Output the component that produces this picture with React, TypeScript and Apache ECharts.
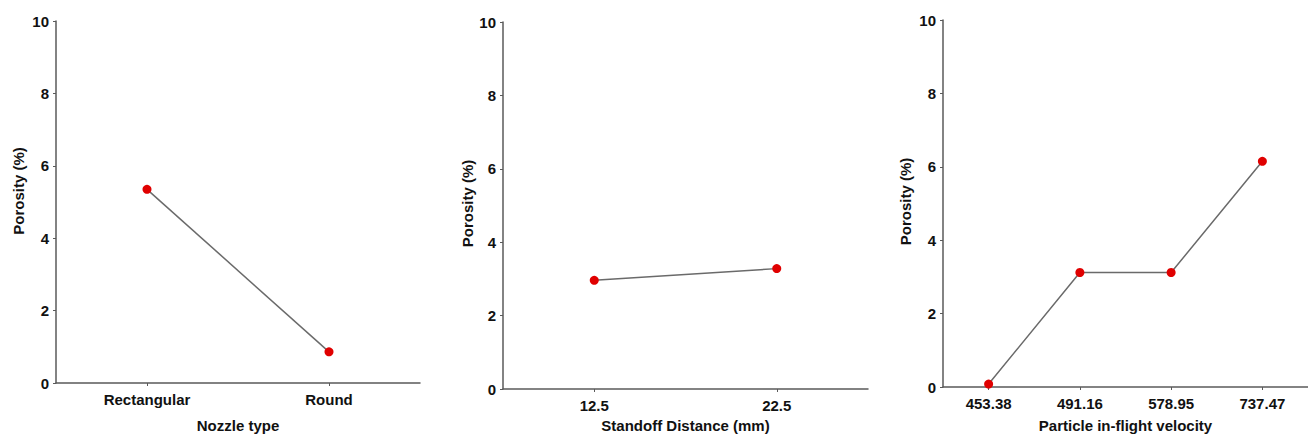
import React, { useEffect, useRef } from "react";
import * as echarts from "echarts";

const yTicks = [0, 2, 4, 6, 8, 10];

const nozzleCategories = ["Rectangular", "Round"];
const nozzlePorosity = [5.35, 0.86];

const standoffCategories = ["12.5", "22.5"];
const standoffPorosity = [2.96, 3.28];

const velocityCategories = ["453.38", "491.16", "578.95", "737.47"];
const velocityPorosity = [0.08, 3.12, 3.12, 6.15];

const xTitles = ["Nozzle type", "Standoff Distance (mm)", "Particle in-flight velocity"];
const yTitle = "Porosity (%)";

const FONT = "'Liberation Sans', Arial, sans-serif";
const AXIS_COLOR = "#5a5a5a";
const TEXT_COLOR = "#111";

export default function App() {
  const ref = useRef<HTMLDivElement>(null);

  useEffect(() => {
    if (!ref.current) return;
    const chart = echarts.init(ref.current, null, { renderer: "svg" });

    const grids = [
      { left: 56, top: 21, width: 364, height: 368 },
      { left: 503, top: 22, width: 365, height: 369 },
      { left: 943, top: 20, width: 365, height: 368 },
    ];
    const cats = [nozzleCategories, standoffCategories, velocityCategories];
    const vals = [nozzlePorosity, standoffPorosity, velocityPorosity];
    const xNameGaps = [35, 29, 31];
    const yNameGaps = [30, 28, 30];
    const yNameShift = [22, 4, 4];

    const textStyle = {
      fontFamily: FONT,
      fontWeight: "bold" as const,
      fontSize: 15,
      color: TEXT_COLOR,
    };

    const option: any = {
      animation: false,
      backgroundColor: "#fff",
      grid: grids.map((g) => ({ ...g, containLabel: false })),
      xAxis: cats.map((c, i) => ({
        type: "category",
        gridIndex: i,
        data: c,
        boundaryGap: true,
        name: xTitles[i],
        nameLocation: "middle",
        nameGap: xNameGaps[i],
        nameTextStyle: textStyle,
        axisLine: { show: true, lineStyle: { color: AXIS_COLOR, width: 1.5 } },
        axisTick: {
          show: true,
          alignWithLabel: true,
          length: 3,
          lineStyle: { color: AXIS_COLOR, width: 1 },
        },
        axisLabel: { ...textStyle, margin: 9, interval: 0 },
        splitLine: { show: false },
      })),
      yAxis: cats.map((_, i) => ({
        type: "value",
        gridIndex: i,
        min: yTicks[0],
        max: yTicks[yTicks.length - 1],
        interval: yTicks[1] - yTicks[0],
        name: yTitle,
        nameLocation: "middle",
        nameRotate: 90,
        nameGap: yNameGaps[i],
        nameTextStyle: { ...textStyle, padding: [0, 0, 0, yNameShift[i]] },
        axisLine: { show: true, lineStyle: { color: AXIS_COLOR, width: 1.5 } },
        axisTick: { show: true, length: 3, lineStyle: { color: AXIS_COLOR, width: 1 } },
        axisLabel: { ...textStyle, margin: 7 },
        splitLine: { show: false },
      })),
      series: vals.map((v, i) => ({
        type: "line",
        xAxisIndex: i,
        yAxisIndex: i,
        data: v,
        symbol: "circle",
        symbolSize: 9,
        itemStyle: { color: "#e00000", borderWidth: 0 },
        lineStyle: { color: "#6a6a6a", width: 1.5 },
        z: 3,
      })),
    };

    chart.setOption(option);
    return () => chart.dispose();
  }, []);

  return (
    <div
      ref={ref}
      style={{ position: "fixed", left: 0, top: 0, width: 1308, height: 438, background: "#fff" }}
    />
  );
}
